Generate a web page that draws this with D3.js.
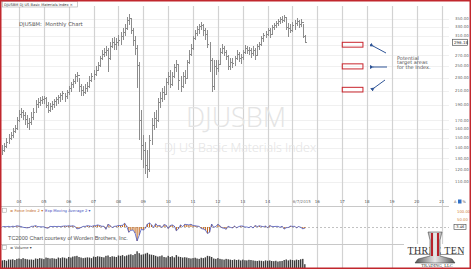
<!DOCTYPE html>
<html><head><meta charset="utf-8">
<script src="https://cdn.jsdelivr.net/npm/d3@7"></script>
<style>
html,body{margin:0;padding:0;background:#fff;}
svg{display:block;}
</style></head><body>
<svg id="c" width="471" height="269"></svg>
<script>
// ---------- DATA (monthly, first bar = April 2003) ----------
const startYear = 2003, startMonth = 3;
const closes = [138,142,146,150,153,158,161,170,178,180,177,172,167,168,174,180,191,194,196,198,199,190,183,188,191,195,198,201,204,206,
  202,208,214,220,225,233,235,217,211,208,214,217,226,233,236,243,252,265,272,276,280,265,288,296,292,296,301,309,318,327,
  347,352,323,301,284,252,170,143,138,124,120,148,164,173,170,194,199,208,205,223,233,220,233,248,254,226,217,233,230,257,
  272,284,305,316,325,332,335,323,314,292,261,217,250,247,254,276,284,276,268,250,257,255,265,272,265,267,276,284,280,280,
  274,280,270,288,292,305,312,314,323,314,330,335,339,344,349,347,354,330,327,323,335,339,344,337,342,309,296];
const highs = [143,145,150,154,156,161,164,174,183,186,183,180,177,173,180,186,196,199,201,202,202,201,194,192,195,198,201,204,206,209,
  205,211,217,223,228,236,240,230,220,217,220,223,233,238,243,250,257,268,280,284,288,284,296,305,307,305,312,318,327,337,
  354,361,352,327,309,290,257,183,153,146,138,153,173,180,183,199,208,214,217,230,240,243,240,254,261,254,233,240,243,261,
  280,292,309,323,332,337,342,337,327,323,296,265,261,261,261,284,292,288,280,270,265,265,268,280,276,272,280,290,288,286,
  284,288,284,292,296,309,316,320,327,327,335,339,344,349,354,356,359,354,339,337,342,347,352,347,349,337,312];
const lows = [133,136,140,144,148,150,155,159,168,173,170,165,161,159,164,170,180,186,188,191,191,186,179,180,183,186,188,191,194,196,
  194,198,204,208,214,220,223,208,202,202,205,208,214,223,226,233,241,248,261,267,268,240,261,284,280,280,288,290,301,309,
  323,335,314,288,270,214,148,128,121,116,113,118,143,159,161,168,186,194,196,204,219,214,217,230,240,211,208,214,220,230,
  254,268,280,301,309,314,323,309,301,284,240,208,211,235,240,254,272,268,261,243,243,247,250,261,257,254,261,272,272,270,
  265,268,261,268,280,288,296,305,309,305,312,323,327,332,337,339,342,323,307,316,318,323,332,327,330,305,294];
const forceIdx = [2,3,2,4,1,5,3,8, 6,3,-2,-4,-6,-3,4,5, 9,3,2,1,1,-6,-8,4, 3,4,3,4,3,5,7,6,
  8,6,8,4,-12,-10,-3,4, 4,9,7,4,8,9,14,10, 5,5,-15,18,10,-4,4,6, 10,10,12,25,6,-35,-22,-20,
  -40,-93,-55,-15,-20,-8,20,27, 15,-3,22,8,10,-3,16,12, -10,10,14,6,-25,-12,14,2, 18,16,14,18,10,8,6,4,
  -10,-14,-20,-43,-35,20,-2,4, 18,8,-6,-8,-15,5,-2,-6, 6,-5,2,7,6,0,0,-4, 4,-7,10,3,8,5,2,6,
  -5,10,4,3,4,4,-2,5, -14,-5,-3,6,4,4,-5,3,-2,-12,-8];
const volumes = [40,42,38,45,44,46,42,48, 50,47,52,48,46,44,45,43, 50,48,52,50,47,55,53,50, 52,50,48,55,52,56,54,50,
  58,55,60,62,64,58,55,52, 54,56,55,52,60,58,62,60, 58,56,64,66,58,62,60,58, 66,64,68,62,66,70,72,68,
  74,88,78,70,72,76,80,72, 70,68,64,60,62,66,58,56, 64,58,62,56,68,60,58,55, 57,55,52,50,52,54,50,48,
  54,52,56,64,62,58,50,48, 52,48,46,44,48,46,44,42, 45,42,44,40,44,41,40,43, 42,40,38,37,39,38,36,40,
  38,40,37,36,38,34,36,37, 42,45,40,44,42,40,44,42,46,48,20];
const yearLabels = ["04","05","06","07","08","09","10","11","12","13","14","15","16","17","18","19","20","21"];
const priceTicks = [110,120,130,140,150,160,170,190,210,230,250,270,310,330,350];
const targetZones = [[286,296],[245,254],[208,215]];
const targetStart = "2017-01", targetEnd = "2017-11";
const lastDateLabel = "6/7/2015";
const lastPrice = "296.18";
const forceTicks = [["100.00",100],["50.00",50]];

// ---------- SCALES ----------
const svg = d3.select("#c");
const W = 471, H = 269;
const x = d3.scaleTime().domain([new Date(2004,0,1), new Date(2021,0,1)]).range([19, 441.7]);
const y = d3.scaleLog().domain([110, 350]).range([181.7, 18.7]);
const fy = d3.scaleLinear().domain([0, 100]).range([227, 212]);
const vy = d3.scaleLinear().domain([0, 100]).range([268, 249]);
const barDate = i => new Date(startYear, startMonth + i + 1, 1);
const opens = closes.map((c,i) => i === 0 ? 136 : closes[i-1]);

svg.append("rect").attr("width", W).attr("height", H).attr("fill", "#fff");

// horizontal grid in price panel
svg.append("g").selectAll("line").data(priceTicks.concat([290])).join("line")
  .attr("x1", 0).attr("x2", 449).attr("y1", d => Math.round(y(d))+0.5).attr("y2", d => Math.round(y(d))+0.5)
  .attr("stroke", "#f0f0f0").attr("stroke-width", 1);

// vertical year grid
const years = d3.range(2004, 2022);
svg.append("g").selectAll("line").data(years).join("line")
  .attr("x1", d => Math.round(x(new Date(d,0,1)))+0.5).attr("x2", d => Math.round(x(new Date(d,0,1)))+0.5)
  .attr("y1", 6).attr("y2", 268).attr("stroke", "#d2d2d2").attr("stroke-width", 1.2);

// panel separators
svg.append("line").attr("x1",0).attr("x2",449).attr("y1",206.5).attr("y2",206.5).attr("stroke","#c8c8c8");
svg.append("line").attr("x1",0).attr("x2",412).attr("y1",244.5).attr("y2",244.5).attr("stroke","#c8c8c8");

// watermark
svg.append("text").attr("x", 236).attr("y", 127).attr("text-anchor","middle")
  .attr("font-family","'Open Sans',Roboto,sans-serif").attr("font-weight",300).attr("font-size",27)
  .attr("fill","#e4e4e4").text("DJUSBM");
svg.append("text").attr("x", 240).attr("y", 152).attr("text-anchor","middle")
  .attr("font-family","'Open Sans',Roboto,sans-serif").attr("font-weight",300).attr("font-size",12.5)
  .attr("fill","#e2e2e2").text("DJ US Basic Materials Index");

// OHLC bars
const bars = svg.append("g").attr("stroke", "#8c8c8c").attr("stroke-width", 1).attr("shape-rendering","crispEdges");
closes.forEach((c, i) => {
  const bx = Math.round(x(barDate(i))) + 0.5;
  bars.append("line").attr("x1", bx).attr("x2", bx).attr("y1", y(highs[i])).attr("y2", y(lows[i]));
  bars.append("line").attr("x1", bx - 1).attr("x2", bx).attr("y1", Math.round(y(opens[i]))+0.5).attr("y2", Math.round(y(opens[i]))+0.5);
  bars.append("line").attr("x1", bx).attr("x2", bx + 1).attr("y1", Math.round(y(c))+0.5).attr("y2", Math.round(y(c))+0.5);
});

// x axis labels
const xa = svg.append("g").attr("font-family","'DejaVu Sans',sans-serif").attr("font-size",4).attr("fill","#555");
yearLabels.forEach((lab, k) => {
  if (lab === "15") return;
  xa.append("text").attr("x", x(new Date(2004 + k, 0, 1))).attr("y", 203.3).attr("text-anchor","middle").text(lab);
});
xa.append("text").attr("x", x(barDate(closes.length-1)) - 3).attr("y", 203.3).attr("text-anchor","middle").attr("fill","#777").text(lastDateLabel);

// y axis labels
const ya = svg.append("g").attr("font-family","'DejaVu Sans',sans-serif").attr("font-size",3.9).attr("fill","#666");
priceTicks.forEach(v => {
  ya.append("text").attr("x", 455).attr("y", y(v) + 1.4).text(v.toFixed(2));
});
// last price marker
const ly = y(296);
svg.append("rect").attr("x", 452.5).attr("y", ly - 3).attr("width", 15).attr("height", 6)
  .attr("fill","#fff").attr("stroke","#555").attr("stroke-width",0.7);
svg.append("text").attr("x", 454).attr("y", ly + 1.4).attr("font-family","'DejaVu Sans',sans-serif")
  .attr("font-size",4).attr("fill","#333").text(lastPrice);

// chart title
svg.append("text").attr("x", 19).attr("y", 26).attr("font-family","'DejaVu Sans',sans-serif")
  .attr("font-size",5.3).attr("fill","#555").attr("xml:space","preserve").text("DJUSBM:  Monthly Chart");

// target zones
const tx0 = x(new Date(targetStart + "-01")), tx1 = x(new Date(targetEnd + "-01"));
svg.append("g").selectAll("rect").data(targetZones).join("rect")
  .attr("x", tx0).attr("width", tx1 - tx0)
  .attr("y", d => y(d[1])).attr("height", d => y(d[0]) - y(d[1]))
  .attr("fill", "none").attr("stroke", "#c9252d").attr("stroke-width", 1);

// arrows
const defs = svg.append("defs");
defs.append("marker").attr("id","ah").attr("viewBox","0 0 10 10").attr("refX",2).attr("refY",5)
  .attr("markerWidth",4).attr("markerHeight",4).attr("orient","auto-start-reverse")
  .append("path").attr("d","M10,0 L0,5 L10,10 z").attr("fill","#2f5597");
const arrows = [[386,53,373,46],[387,67,373,67],[385,80,374,88]];
svg.append("g").selectAll("line").data(arrows).join("line")
  .attr("x1", d => d[0]).attr("y1", d => d[1]).attr("x2", d => d[2]).attr("y2", d => d[3])
  .attr("stroke","#2f5597").attr("stroke-width",1).attr("marker-end","url(#ah)");

// annotation text
const ann = svg.append("text").attr("font-family","'DejaVu Sans',sans-serif").attr("font-size",5).attr("fill","#555");
["Potential","target areas","for the Index."].forEach((t,k) => {
  ann.append("tspan").attr("x", 397).attr("y", 59.5 + k * 4.7).text(t);
});

// header tab
svg.append("rect").attr("x",2.5).attr("y",1.5).attr("width",75).attr("height",5.5).attr("fill","#fff").attr("stroke","#aaa").attr("stroke-width",0.6);
svg.append("text").attr("x",4).attr("y",5.6).attr("font-family","'DejaVu Sans',sans-serif").attr("font-size",3.6).attr("fill","#333")
  .text("DJUSBM DJ US Basic Materials Index  \u00d7");

// ---------- FORCE INDEX PANEL ----------
svg.append("line").attr("x1",0).attr("x2",449).attr("y1",fy(0)+0.5).attr("y2",fy(0)+0.5)
  .attr("stroke","#999").attr("stroke-width",0.6).attr("stroke-dasharray","2,2");
svg.append("g").attr("stroke","#c46a1e").attr("stroke-width",1.1).selectAll("line").data(forceIdx).join("line")
  .attr("x1",(d,i)=>x(barDate(i))).attr("x2",(d,i)=>x(barDate(i)))
  .attr("y1",fy(0)).attr("y2",d=>fy(d));
svg.append("path").datum(forceIdx)
  .attr("d", d3.line().x((d,i)=>x(barDate(i))).y(d=>fy(d)))
  .attr("fill","none").attr("stroke","#4a5cc8").attr("stroke-width",0.8);
// force header
svg.append("rect").attr("x",2.5).attr("y",208.2).attr("width",4).attr("height",4).attr("fill","#fff").attr("stroke","#999").attr("stroke-width",0.5);
svg.append("text").attr("x",10).attr("y",211.6).attr("font-family","'DejaVu Sans',sans-serif").attr("font-size",3.8).attr("fill","#c46a1e").text("\u2261 Force Index 2 \u25be");
svg.append("text").attr("x",45).attr("y",211.6).attr("font-family","'DejaVu Sans',sans-serif").attr("font-size",3.8).attr("fill","#3f51c0").text("Exp Moving Average 2 \u25be");
const fa = svg.append("g").attr("font-family","'DejaVu Sans',sans-serif").attr("font-size",3.8).attr("fill","#d07a30");
forceTicks.forEach(t => fa.append("text").attr("x",457).attr("y",fy(t[1])+1.3).text(t[0]));
svg.append("rect").attr("x",454).attr("y",fy(0)-2.5).attr("width",12).attr("height",5).attr("fill","#fff").attr("stroke","#444").attr("stroke-width",0.6);
svg.append("text").attr("x",455).attr("y",fy(0)+1.3).attr("font-family","'DejaVu Sans',sans-serif").attr("font-size",3.6).attr("fill","#333").text("-3.46");

svg.append("text").attr("x",8).attr("y",240).attr("font-family","'Liberation Sans',Arial,sans-serif").attr("font-size",5.6).attr("fill","#555")
  .text("TC2000 Chart courtesy of Worden Brothers, Inc.");

// ---------- VOLUME PANEL ----------
svg.append("rect").attr("x",2.5).attr("y",245.6).attr("width",4).attr("height",4).attr("fill","#fff").attr("stroke","#999").attr("stroke-width",0.5);
svg.append("text").attr("x",10).attr("y",249).attr("font-family","'DejaVu Sans',sans-serif").attr("font-size",3.8).attr("fill","#444").text("\u2261 Volume \u25be");
svg.append("g").attr("fill","#3c3c3c").selectAll("rect").data(volumes).join("rect")
  .attr("x",(d,i)=>x(barDate(i))-0.7).attr("width",1.4)
  .attr("y",d=>vy(d)).attr("height",d=>vy(0)-vy(d));

// toolbar glyphs near axis corner
svg.append("rect").attr("x",458).attr("y",199.5).attr("width",3.5).attr("height",4).attr("fill","#2f6fc6");
svg.append("text").attr("x",454).attr("y",203).attr("font-family","'DejaVu Sans',sans-serif").attr("font-size",3.5).attr("fill","#444").text("A");
svg.append("text").attr("x",462.5).attr("y",203).attr("font-family","'DejaVu Sans',sans-serif").attr("font-size",3.5).attr("fill","#444").text("%");

// ---------- LOGO ----------
const logo = svg.append("g");
logo.append("rect").attr("x",404).attr("y",244).attr("width",65).attr("height",24).attr("fill","#fff");
const grad = defs.append("linearGradient").attr("id","tg").attr("x1","0").attr("x2","1");
grad.append("stop").attr("offset","0").attr("stop-color","#555");
grad.append("stop").attr("offset","0.5").attr("stop-color","#e8e8e8");
grad.append("stop").attr("offset","1").attr("stop-color","#555");
logo.append("text").attr("x",436).attr("y",253.5).attr("text-anchor","middle").attr("font-family","'Liberation Serif',serif")
  .attr("font-size",10).attr("fill","#333").attr("textLength",57).text("THREE TEN");
logo.append("line").attr("x1",409).attr("x2",464).attr("y1",254.5).attr("y2",254.5).attr("stroke","#333").attr("stroke-width",0.5);
logo.append("path").attr("d","M428,232 L442,232 L440,240 L440,256 L452,259 L455,263 L415,263 L418,259 L430,256 L430,240 Z")
  .attr("fill","url(#tg)").attr("stroke","#333").attr("stroke-width",0.5);
logo.append("path").attr("d","M431,233 L433,233 L433,256 L431,256 Z").attr("fill","#b8222a");
logo.append("path").attr("d","M437,233 L439,233 L439,256 L437,256 Z").attr("fill","#b8222a");
logo.append("text").attr("x",437).attr("y",266.5).attr("text-anchor","middle").attr("font-family","'Liberation Serif',serif")
  .attr("font-size",4.6).attr("fill","#333").text("TRADING, LLC");

// outer red border
svg.append("rect").attr("x",0.75).attr("y",0.75).attr("width",W-1.5).attr("height",H-1.5)
  .attr("fill","none").attr("stroke","#c1272d").attr("stroke-width",1.5);
</script>
</body></html>
